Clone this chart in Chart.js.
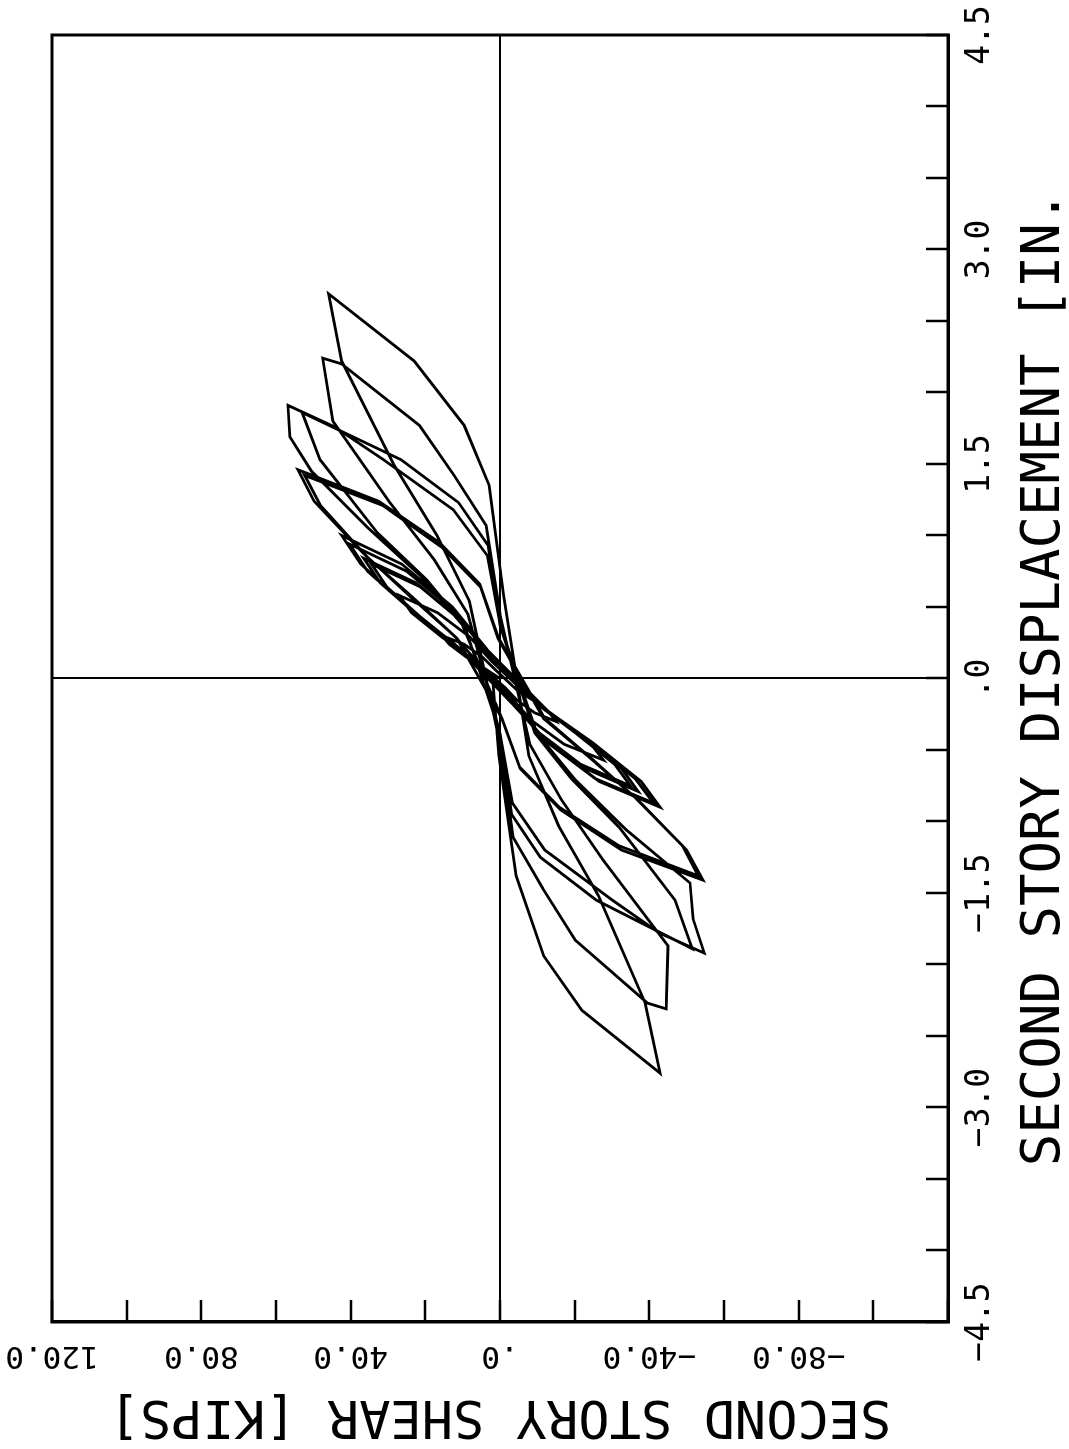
<!DOCTYPE html>
<html>
<head>
<meta charset="utf-8">
<title>Second story shear vs displacement</title>
<script src="https://cdn.jsdelivr.net/npm/chart.js@4.4.1/dist/chart.umd.min.js"></script>
<style>
  html, body { margin: 0; padding: 0; background: #fff; overflow: hidden; }
  #page { position: absolute; left: 0; top: 0; width: 1069px; height: 1449px; overflow: hidden; background: #fff; }
  /* the plot is laid out landscape and turned a quarter turn counter-clockwise onto the page */
  #turn { position: absolute; left: 0; top: 0; width: 1489px; height: 1069px;
          transform-origin: 0 0; transform: translate(0, 1449px) rotate(-90deg); }
  #plot { display: block; width: 1489px; height: 1069px; }
</style>
</head>
<body>
<div id="page"><div id="turn"><canvas id="plot" width="1489" height="1069"></canvas></div></div>
<script>
// Second story displacement (in.) and second story shear (kips), in load order
const displacement = [
  0.00,
  0.08, 0.15, 0.24, 0.30, 0.24, 0.15, 0.06, -0.08, -0.15, -0.24, -0.30, -0.24, -0.15, -0.06,
  0.15, 0.29, 0.46, 0.58, 0.46, 0.29, 0.12, -0.14, -0.29, -0.46, -0.57, -0.46, -0.29, -0.11,
  0.20, 0.40, 0.64, 0.80, 0.64, 0.40, 0.16, -0.19, -0.38, -0.60, -0.75, -0.60, -0.38, -0.15,
  0.21, 0.42, 0.67, 0.84, 0.67, 0.42, 0.17, -0.20, -0.40, -0.63, -0.79, -0.63, -0.40, -0.16,
  0.25, 0.50, 0.80, 1.00, 0.80, 0.50, 0.20, -0.23, -0.45, -0.72, -0.90, -0.72, -0.45, -0.18,
  0.24, 0.47, 0.75, 0.94, 0.75, 0.47, 0.19, -0.22, -0.44, -0.70, -0.87, -0.70, -0.44, -0.17,
  0.29, 0.58, 0.88, 1.24, 1.46, 1.24, 0.95, 0.66, 0.29, -0.28, -0.56, -0.85, -1.20, -1.41, -1.20, -0.92, -0.63, -0.28,
  0.28, 0.57, 0.85, 1.21, 1.42, 1.21, 0.92, 0.64, 0.28, -0.28, -0.55, -0.83, -1.17, -1.38, -1.17, -0.90, -0.62, -0.28,
  0.38, 0.71, 1.05, 1.45, 1.69, 1.91, 1.76, 1.53, 1.18, 0.86, 0.38,
  -0.38, -0.71, -1.06, -1.43, -1.68, -1.92, -1.78, -1.55, -1.20, -0.87, -0.38,
  0.37, 0.69, 1.02, 1.53, 1.86, 1.53, 1.23, 0.93, 0.37,
  -0.38, -0.70, -1.04, -1.55, -1.89, -1.55, -1.25, -0.95, -0.38,
  0.45, 0.83, 1.23, 1.80, 2.24, 2.20, 1.77, 1.42, 1.07, 0.45,
  -0.46, -0.85, -1.27, -1.87, -2.31, -2.27, -1.83, -1.47, -1.11, -0.46,
  0.54, 1.00, 1.49, 2.22, 2.69, 2.22, 1.77, 1.35, 0.58,
  -0.54, -1.03, -1.52, -2.27, -2.76, -2.32, -1.94, -1.38, -0.54, 0.00
];
const storyShear = [
  0.0,
  4.7, 9.0, 13.6, 15.5, 9.6, 4.7, 1.2, -4.5, -8.7, -13.2, -15.0, -9.3, -4.5, -1.2,
  8.1, 15.6, 23.7, 26.9, 16.7, 8.1, 2.2, -8.3, -16.1, -24.4, -27.7, -17.2, -8.3, -2.2,
  10.3, 20.0, 30.3, 34.4, 21.3, 10.3, 2.8, -10.5, -20.2, -30.7, -34.9, -21.6, -10.5, -2.8,
  11.0, 21.2, 32.1, 36.5, 22.6, 11.0, 2.9, -11.1, -21.5, -32.6, -37.0, -22.9, -11.1, -3.0,
  12.7, 24.6, 37.3, 42.4, 26.3, 12.7, 3.4, -12.9, -24.9, -37.8, -42.9, -26.6, -12.9, -3.4,
  12.1, 23.4, 35.5, 40.3, 25.0, 12.1, 3.2, -12.3, -23.8, -36.2, -41.1, -25.5, -12.3, -3.3,
  11.9, 24.3, 36.8, 49.8, 54.1, 32.5, 16.2, 5.4, 0.5, -12.0, -24.5, -37.0, -50.0, -54.4, -32.6, -16.3, -5.4, -0.5,
  11.5, 23.5, 35.6, 48.1, 52.3, 31.4, 15.7, 5.2, 0.5, -11.7, -23.9, -36.1, -48.9, -53.1, -31.9, -15.9, -5.3, -0.5,
  10.2, 21.0, 35.2, 50.5, 56.3, 56.8, 44.3, 31.2, 12.5, 3.4, 0.0,
  -9.8, -20.2, -33.9, -50.9, -51.7, -54.7, -42.7, -30.1, -12.0, -3.3, 0.0,
  9.5, 19.6, 32.9, 48.2, 53.0, 26.5, 11.1, 3.2, 0.0,
  -9.3, -19.1, -31.9, -46.9, -51.5, -25.8, -10.8, -3.1, 0.0,
  8.6, 17.6, 29.5, 44.8, 47.5, 42.4, 21.6, 12.3, 3.7, 0.0,
  -8.0, -16.5, -27.6, -45.0, -44.5, -39.5, -20.2, -11.5, -3.5, 0.0,
  8.2, 16.9, 28.3, 42.4, 45.9, 23.0, 9.6, 2.9, -1.0,
  -7.7, -15.7, -26.4, -38.9, -42.9, -21.9, -11.7, -4.3, 0.3, 2.0
];

// Axis tick labels
const dispTickValues = [-4.5, -3.0, -1.5, 0, 1.5, 3.0, 4.5];
const dispTickText = ['\u22124.5', '\u22123.0', '\u22121.5', '.0', '1.5', '3.0', '4.5'];
const shearTickValues = [120, 80, 40, 0, -40, -80];
const shearTickText = ['120.0', '80.0', '40.0', '.0', '\u221240.0', '\u221280.0'];

const FONT = "'DejaVu Sans Mono', 'Liberation Mono', monospace";
const INK = '#000';

function labelFor(values, texts, v) {
  const i = values.findIndex(t => Math.abs(t - v) < 1e-6);
  return i >= 0 ? texts[i] : '';
}

// white page and the closed frame round the plot area
const framePlugin = {
  id: 'frame',
  beforeDraw(chart) {
    const c = chart.ctx;
    c.save();
    c.fillStyle = '#fff';
    c.fillRect(0, 0, chart.width, chart.height);
    c.restore();
  },
  afterDraw(chart) {
    const c = chart.ctx, a = chart.chartArea;
    c.save();
    c.strokeStyle = INK;
    c.lineWidth = 3;
    c.strokeRect(a.left, a.top, a.right - a.left, a.bottom - a.top);
    c.restore();
  }
};

const zeroOnly = ctx => (ctx.tick && Math.abs(ctx.tick.value) < 1e-9) ? INK : 'rgba(0,0,0,0)';

new Chart(document.getElementById('plot'), {
  type: 'scatter',
  data: {
    datasets: [{
      data: displacement.map((d, i) => ({ x: d, y: storyShear[i] })),
      showLine: true,
      borderColor: INK,
      borderWidth: 2.8,
      pointRadius: 0,
      tension: 0,
      fill: false
    }]
  },
  options: {
    responsive: false,
    animation: false,
    devicePixelRatio: 1,
    layout: { padding: { top: 52, right: 75, bottom: 0, left: 0 } },
    plugins: { legend: { display: false }, tooltip: { enabled: false } },
    scales: {
      x: {
        type: 'linear',
        position: 'bottom',
        min: -4.5,
        max: 4.5,
        afterFit: s => { s.height = 121; },
        border: { display: true, color: INK, width: 3 },
        grid: { drawOnChartArea: true, color: zeroOnly, lineWidth: 2, drawTicks: true,
                tickLength: -22, tickColor: INK, tickWidth: 2.5 },
        ticks: {
          stepSize: 0.5, autoSkip: false, maxRotation: 0, minRotation: 0,
          padding: 35, color: INK,
          font: { family: FONT, size: 33 },
          callback: v => labelFor(dispTickValues, dispTickText, v)
        },
        title: {
          display: true, text: 'SECOND STORY DISPLACEMENT [IN.', color: INK,
          font: { family: FONT, size: 54, lineHeight: 0.9 }, padding: 0
        }
      },
      y: {
        type: 'linear',
        position: 'left',
        min: -120,
        max: 120,
        afterFit: s => { s.width = 127; },
        border: { display: true, color: INK, width: 3 },
        grid: { drawOnChartArea: true, color: zeroOnly, lineWidth: 2, drawTicks: true,
                tickLength: -22, tickColor: INK, tickWidth: 2.5 },
        ticks: {
          stepSize: 20, autoSkip: false, minRotation: 90, maxRotation: 90,
          crossAlign: 'center', padding: 8, color: INK,
          font: { family: FONT, size: 31 },
          callback: v => labelFor(shearTickValues, shearTickText, v)
        },
        title: {
          display: true, text: 'SECOND STORY SHEAR [KIPS]', color: INK,
          font: { family: FONT, size: 52, lineHeight: 1.2 }, padding: { top: 3, bottom: 0 }
        }
      }
    }
  },
  plugins: [framePlugin]
});
</script>
</body>
</html>
